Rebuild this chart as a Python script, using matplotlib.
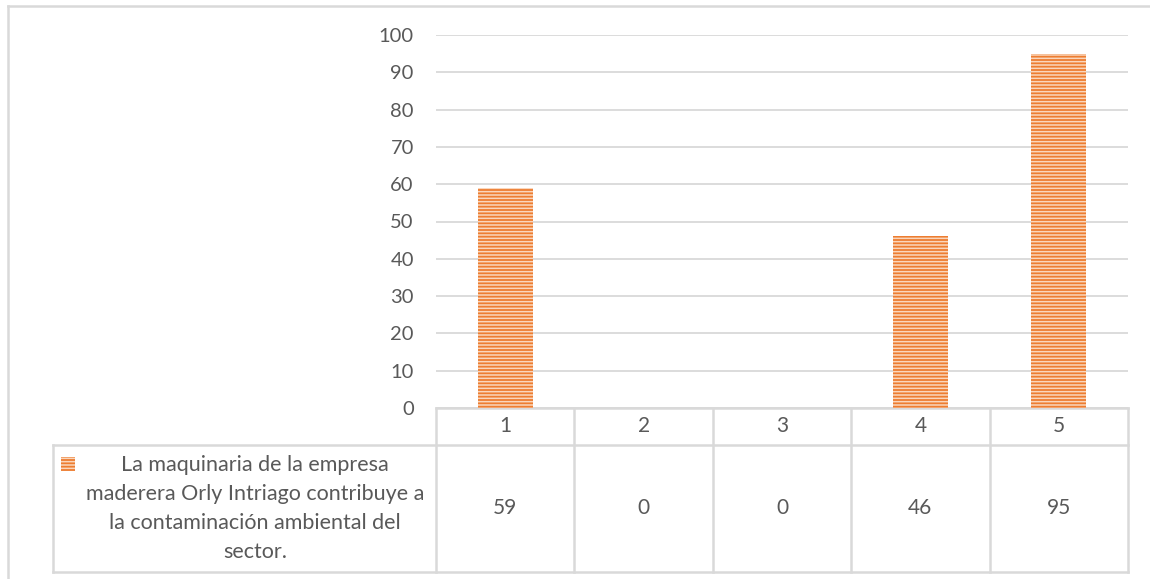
import matplotlib.pyplot as plt
import matplotlib.transforms as mtransforms
from matplotlib.patches import Rectangle

categories = ["1", "2", "3", "4", "5"]
values = [59, 0, 0, 46, 95]
series_name = ("La maquinaria de la empresa\nmaderera Orly Intriago contribuye a\n"
               "la contaminación ambiental del\nsector.")
yticks = [0, 10, 20, 30, 40, 50, 60, 70, 80, 90, 100]

orange = "#ED7D31"
stripe = "#FAD6BC"
grid_c = "#D9D9D9"
text_c = "#595959"

plt.rcParams["font.family"] = ["Lato", "DejaVu Sans"]
plt.rcParams["hatch.linewidth"] = 1.1

W, H = 1150, 579
fig = plt.figure(figsize=(W / 100, H / 100), dpi=100)
ax = fig.add_axes([436 / W, 1 - 408 / H, 692 / W, 373 / H])

x = list(range(1, len(categories) + 1))
ax.bar(x, values, width=0.4, color=orange, edgecolor=stripe, linewidth=0,
       hatch="-----", zorder=3)

ax.set_xlim(0.5, 5.5)
ax.set_ylim(0, 100)
ax.set_yticks(yticks)
ax.tick_params(axis="y", length=0, pad=16, labelsize=14.5, labelcolor=text_c)
ax.set_xticks([])
ax.grid(axis="y", color=grid_c, linewidth=1.3, zorder=0)
for s in ax.spines.values():
    s.set_visible(False)

# data table under the plot
tr = mtransforms.blended_transform_factory(ax.transData, ax.transAxes)
y_top, y_mid, y_bot = 0.0, -37 / 373, -164 / 373
x_left = 0.5 + (53 - 436) / (692 / 5)
lk = dict(color=grid_c, linewidth=1.8, transform=tr, clip_on=False)
ax.plot([0.5, 5.5], [y_top, y_top], **lk)
ax.plot([x_left, 5.5], [y_mid, y_mid], **lk)
ax.plot([x_left, 5.5], [y_bot, y_bot], **lk)
ax.plot([x_left, x_left], [y_mid, y_bot], **lk)
for xe in [0.5, 1.5, 2.5, 3.5, 4.5, 5.5]:
    ax.plot([xe, xe], [y_top, y_bot], **lk)

for xi, cat, v in zip(x, categories, values):
    ax.text(xi, (y_top + y_mid) / 2, cat, transform=tr, ha="center", va="center",
            fontsize=15, color=text_c)
    ax.text(xi, (y_mid + y_bot) / 2, str(v), transform=tr, ha="center", va="center",
            fontsize=15, color=text_c)

ax.text(0.5 + (255 - 436) / (692 / 5), (y_mid + y_bot) / 2, series_name,
        transform=tr, ha="center", va="center", multialignment="center",
        fontsize=15.5, color=text_c, linespacing=1.58)

# legend key in the table
fig.patches.append(Rectangle((61 / W, 1 - 471 / H), 14 / W, 14 / H,
                             transform=fig.transFigure, facecolor=orange,
                             edgecolor=stripe, linewidth=0, hatch="-----"))

# outer frame
fig.add_artist(plt.Line2D([8 / W, 8 / W], [0, 1 - 6 / H], color=grid_c,
                          linewidth=1.8, transform=fig.transFigure))
fig.add_artist(plt.Line2D([8 / W, 1], [1 - 6 / H, 1 - 6 / H], color=grid_c,
                          linewidth=1.8, transform=fig.transFigure))

fig.savefig("out.png", dpi=100)
